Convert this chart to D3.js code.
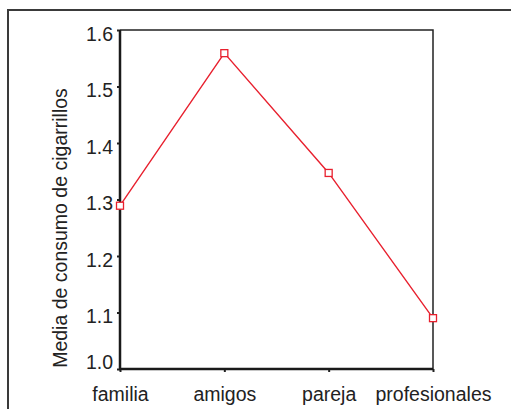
<!DOCTYPE html>
<html><head><meta charset="utf-8">
<script src="https://cdn.jsdelivr.net/npm/d3@7"></script>
<style>body{margin:0;background:#fff}svg{display:block}</style>
</head><body>
<script>
const categories = ["familia","amigos","pareja","profesionales"];
const values = [1.289, 1.559, 1.347, 1.090];
const yTicks = [1.0,1.1,1.2,1.3,1.4,1.5,1.6];
const yTitle = "Media de consumo de cigarrillos";

const W=511,H=409;
const svg=d3.select("body").append("svg").attr("width",W).attr("height",H);
const font="Liberation Sans, Arial, sans-serif";
const L=120,R=433,T=30,B=369;
const x=d3.scalePoint().domain(categories).range([L,R]);
const y=d3.scaleLinear().domain([1.0,1.6]).range([B,T]);

// outer frame
svg.append("path").attr("d",`M8,${H+5}V10H${W+5}`).attr("fill","none").attr("stroke","#3a3a3a").attr("stroke-width",2);

// plot box top/right
svg.append("path").attr("d",`M${L},${T}H${R}V${B}`).attr("fill","none").attr("stroke","#222").attr("stroke-width",1.5);

// y axis
const ya=svg.append("g").attr("transform",`translate(${L},0)`)
 .call(d3.axisLeft(y).tickValues(yTicks).tickFormat(d3.format(".1f")).tickSize(3).tickPadding(4));
ya.select(".domain").remove();
ya.selectAll("line").attr("stroke","#222").attr("stroke-width",2);
ya.selectAll("text").attr("font-family",font).attr("font-size",19.5).attr("fill","#222")
 .attr("dy",d=>d===1.0?"-0.04em":"0.53em");

// x axis
const xa=svg.append("g").attr("transform",`translate(0,${B})`)
 .call(d3.axisBottom(x).tickSize(3).tickPadding(15));
xa.select(".domain").remove();
xa.selectAll("line").attr("stroke","#222").attr("stroke-width",2);
xa.selectAll("text").attr("font-family",font).attr("font-size",19.5).attr("fill","#222");

// axes lines thick
svg.append("path").attr("d",`M${L},${T}V${B}H${R}`).attr("fill","none").attr("stroke","#1a1a1a").attr("stroke-width",2.5);

// y title
svg.append("text").attr("transform",`translate(67,228) rotate(-90)`).attr("text-anchor","middle")
 .attr("font-family",font).attr("font-size",19.5).attr("fill","#222").text(yTitle);

// line
const data=categories.map((c,i)=>({c,v:values[i]}));
svg.append("path").datum(data).attr("d",d3.line().x(d=>x(d.c)).y(d=>y(d.v)))
 .attr("fill","none").attr("stroke","#e8202e").attr("stroke-width",1.4);
svg.selectAll("rect.m").data(data).enter().append("rect").attr("class","m")
 .attr("x",d=>x(d.c)-3.5).attr("y",d=>y(d.v)-3.5).attr("width",7).attr("height",7)
 .attr("fill","#fff").attr("stroke","#e8202e").attr("stroke-width",1.3);
</script>
</body></html>
